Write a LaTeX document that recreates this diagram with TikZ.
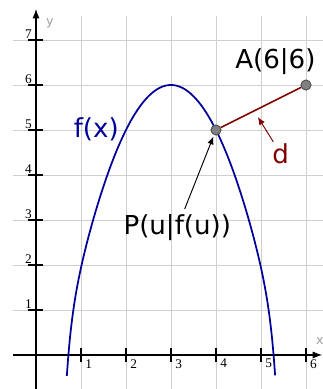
\documentclass[tikz,border=0pt]{standalone}
\usepackage{fontspec}
\usepackage{xcolor}
\usepackage{tikz}
\usetikzlibrary{arrows.meta}
\newfontfamily\sanslabel{DejaVu Sans}
\newfontfamily\serifnum{Liberation Serif}
\definecolor{Navy}{HTML}{000099}
\definecolor{Maroon}{HTML}{800000}
\definecolor{GridGray}{HTML}{CFCFCF}
\definecolor{AxisName}{HTML}{A0A0A0}
\definecolor{DotFill}{HTML}{808080}
\definecolor{DotEdge}{HTML}{505050}

\begin{document}
\begin{tikzpicture}[x=1cm,y=1cm,
gridline/.style={draw=GridGray,line width=0.6pt},
axis/.style={-{Latex[length=6pt,width=4.5pt]},line width=0.7pt},
tickmark/.style={line width=0.7pt},
ticklabel/.style={font=\serifnum\fontsize{8.4}{10}\selectfont,inner xsep=2.5pt},
axisname/.style={font=\sanslabel\fontsize{8}{10}\selectfont,text=AxisName},
lbl/.style={font=\sanslabel\fontsize{16.5}{20}\selectfont},
dot/.style={circle,fill=DotFill,draw=DotEdge,line width=0.5pt,inner sep=0pt,minimum size=0.22cm},
pointer/.style={-{Latex[length=5pt,width=4pt]},line width=0.6pt}]
\useasboundingbox (-0.8,-0.756) rectangle (6.378,7.889);
% grid
\foreach \k in {1,...,7} \draw[gridline] (-0.51,\k) -- (6.378,\k);
\foreach \k in {1,...,6} \draw[gridline] (\k,-0.756) -- (\k,7.53);
% axes
\draw[axis] (-0.51,0) -- (6.36,0);
\draw[axis] (0,-0.756) -- (0,7.69);
\foreach \k in {1,...,6} {
  \draw[tickmark] (\k,-0.16) -- (\k,0.16);
  \node[ticklabel,anchor=north west,inner ysep=2.5pt] at (\k,0) {\k};
}
\foreach \k in {1,...,7} {
  \draw[tickmark] (-0.18,\k) -- (0.155,\k);
  \node[ticklabel,anchor=south east,inner ysep=0.5pt] at (0,\k) {\k};
}
\node[axisname] (ylab) at (0.31,7.38) {y};
\node[axisname] (xlab) at (6.31,0.31) {x};
% curve
\draw[Navy,line width=1.1pt] plot[domain=0.685:5.315,samples=160,smooth] (\x,{6-(\x-3)^2-0.802*exp(9.2*(abs(\x-3)-2.28))});
% points
\node[dot] (P) at (4,5) {};
\node[dot] (A) at (6,6) {};
\draw[Maroon,line width=1pt] (P) -- (A);
\node[dot] at (P) {};
\node[dot] at (A) {};
% labels
\node[lbl,text=Navy] (flab) at (1.34,5.02) {f(x)};
\node[lbl] (Alab) at (5.32,6.53) {A(6|6)};
\node[lbl,text=Maroon,inner sep=1pt] (dlab) at (5.44,4.47) {d};
\node[lbl] (Plab) at (3.14,2.83) {P(u|f(u))};
\coordinate (dtip) at (4.93,5.29);
\draw[pointer,Maroon] (dlab) -- (dtip);
\draw[pointer,shorten >=1pt] (Plab) -- (P);
\end{tikzpicture}
\end{document}
